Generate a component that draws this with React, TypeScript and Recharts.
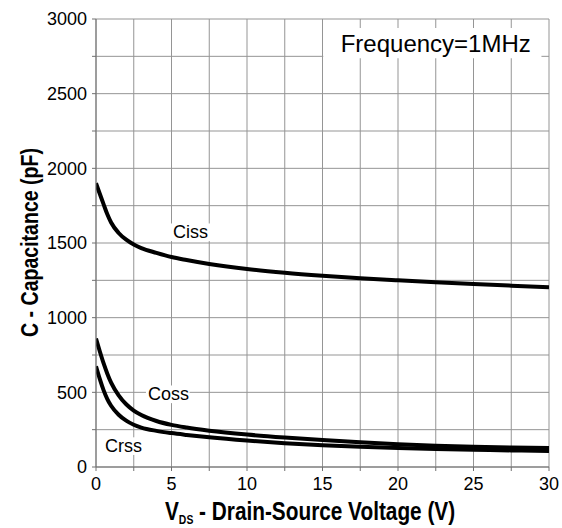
import React from "react";
import {
  LineChart,
  Line,
  XAxis,
  YAxis,
  CartesianGrid,
  ReferenceArea,
  ReferenceDot,
} from "recharts";

const vds = [0, 0.25, 0.5, 0.75, 1, 1.5, 2, 2.5, 3, 4, 5, 6, 7.5, 10, 12.5, 15, 17.5, 20, 22.5, 25, 27.5, 30];
const ciss = [1900, 1830, 1760, 1692, 1637, 1567, 1522, 1490, 1466, 1434, 1406, 1386, 1360, 1326, 1301, 1281, 1264, 1250, 1237, 1225, 1214, 1203];
const coss = [860, 775, 695, 625, 565, 480, 420, 378, 348, 308, 282, 264, 243, 217, 197, 180, 165, 152, 142, 135, 130, 127];
const crss = [675, 590, 515, 455, 410, 350, 310, 283, 264, 242, 227, 215, 199, 177, 159, 145, 135, 127, 121, 116, 111, 107];

const xTicks = [0, 2.5, 5, 7.5, 10, 12.5, 15, 17.5, 20, 22.5, 25, 27.5, 30];
const yTicks = [0, 250, 500, 750, 1000, 1250, 1500, 1750, 2000, 2250, 2500, 2750, 3000];

const seriesLabels = [
  { name: "Ciss", x: 5.1, y: 1532 },
  { name: "Coss", x: 3.44, y: 447 },
  { name: "Crss", x: 0.6, y: 100 },
];
const noteText = "Frequency=1MHz";
const noteBox = { x1: 15.05, x2: 29.5, y1: 2738, y2: 2940 };
const notePos = { x: 22.5, y: 2780 };

const data = vds.map((v, i) => ({ v, ciss: ciss[i], coss: coss[i], crss: crss[i] }));

const FONT = "'Liberation Sans', Arial, Helvetica, sans-serif";

const makeLabel = (text: string, fontSize: number, anchor: "start" | "middle", bg: boolean) =>
  (props: any) => {
    const vb = props.viewBox || {};
    const cx = (vb.x ?? 0) + (vb.width ?? 0) / 2;
    const cy = (vb.y ?? 0) + (vb.height ?? 0) / 2;
    const w = text.length * fontSize * 0.55 + 4;
    return (
      <g>
        {bg && (
          <rect
            x={anchor === "start" ? cx - 2 : cx - w / 2}
            y={cy - fontSize * 0.82}
            width={w}
            height={fontSize * 0.98}
            fill="#fff"
          />
        )}
        <text
          x={cx}
          y={cy}
          fontSize={fontSize}
          fontFamily={FONT}
          fill="#000"
          textAnchor={anchor}
        >
          {text}
        </text>
      </g>
    );
  };

export default function App() {
  return (
    <div style={{ position: "relative", width: 562, height: 528, background: "#fff" }}>
      <style>{"body{margin:0;background:#fff}"}</style>
      <LineChart
        width={562}
        height={528}
        data={data}
        margin={{ top: 19, right: 13, bottom: 0, left: 0 }}
      >
        <CartesianGrid stroke="#959595" strokeWidth={1} />
        <XAxis
          type="number"
          dataKey="v"
          domain={[0, 30]}
          ticks={xTicks}
          interval={0}
          height={61}
          tickFormatter={(t: number) => (t % 5 === 0 ? String(t) : "")}
          tick={{ fontSize: 18, fill: "#000", fontFamily: FONT }}
          tickSize={4}
          tickMargin={6}
          stroke="#707070"
          allowDataOverflow
        />
        <YAxis
          type="number"
          domain={[0, 3000]}
          ticks={yTicks}
          interval={0}
          width={96}
          tickFormatter={(t: number) => (t % 500 === 0 ? String(t) : "")}
          tick={{ fontSize: 18, fill: "#000", fontFamily: FONT }}
          tickSize={4}
          tickMargin={5}
          stroke="#707070"
          allowDataOverflow
        />
        <ReferenceArea
          x1={noteBox.x1}
          x2={noteBox.x2}
          y1={noteBox.y1}
          y2={noteBox.y2}
          fill="#fff"
          fillOpacity={1}
          stroke="none"
          ifOverflow="visible"
        />
        <Line type="monotone" dataKey="ciss" stroke="#000" strokeWidth={4} dot={false} isAnimationActive={false} />
        <Line type="monotone" dataKey="coss" stroke="#000" strokeWidth={4} dot={false} isAnimationActive={false} />
        <Line type="monotone" dataKey="crss" stroke="#000" strokeWidth={4} dot={false} isAnimationActive={false} />
        {seriesLabels.map((l) => (
          <ReferenceDot
            key={l.name}
            x={l.x}
            y={l.y}
            r={0}
            fill="none"
            stroke="none"
            ifOverflow="visible"
            label={makeLabel(l.name, 18, "start", true)}
          />
        ))}
        <ReferenceDot
          x={notePos.x}
          y={notePos.y}
          r={0}
          fill="none"
          stroke="none"
          ifOverflow="visible"
          label={makeLabel(noteText, 24, "middle", false)}
        />
      </LineChart>
      <svg
        width={562}
        height={528}
        style={{ position: "absolute", left: 0, top: 0, pointerEvents: "none" }}
      >
        <text
          transform="translate(38 242.5) rotate(-90) scale(0.85 1)"
          x={0}
          y={0}
          textAnchor="middle"
          fontFamily={FONT}
          fontWeight="bold"
          fontSize={23}
          fill="#000"
        >
          C - Capacitance (pF)
        </text>
        <text
          transform="translate(165 520) scale(0.8 1)"
          x={0}
          y={0}
          fontFamily={FONT}
          fontWeight="bold"
          fontSize={26}
          fill="#000"
        >
          <tspan>V</tspan>
          <tspan fontSize={13} dy={4}>DS</tspan>
          <tspan dy={-4}> - Drain-Source Voltage (V)</tspan>
        </text>
      </svg>
    </div>
  );
}
